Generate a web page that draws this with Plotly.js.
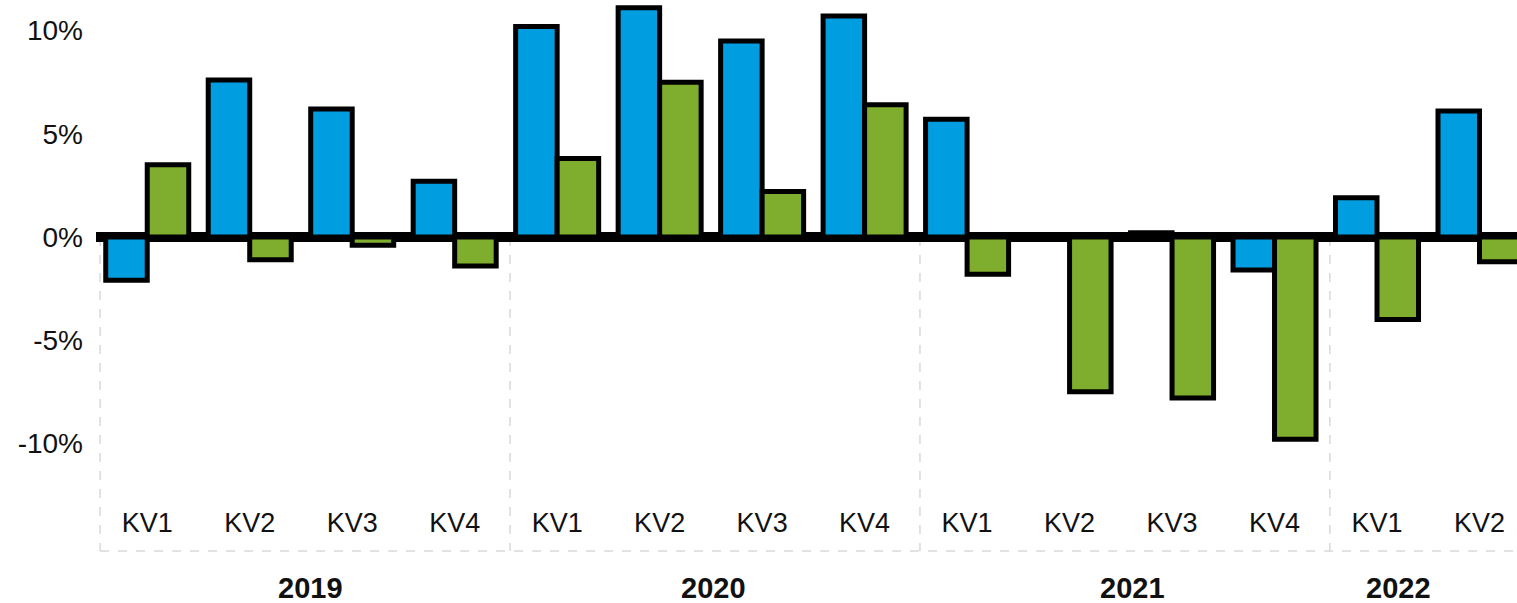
<!DOCTYPE html>
<html>
<head>
<meta charset="utf-8">
<script src="https://cdn.plot.ly/plotly-3.0.1.min.js"></script>
<style>
  html, body { margin: 0; padding: 0; background: #ffffff; overflow: hidden; }
  #chart { width: 1517px; height: 603px; }
</style>
</head>
<body>
<div id="chart"></div>
<script>
// ---- data ----
const years = ['2019','2019','2019','2019','2020','2020','2020','2020','2021','2021','2021','2021','2022','2022'];
const quarters = ['KV1','KV2','KV3','KV4','KV1','KV2','KV3','KV4','KV1','KV2','KV3','KV4','KV1','KV2'];
const blueValues = [-2.1, 7.6, 6.2, 2.7, 10.2, 11.1, 9.5, 10.7, 5.7, -0.05, 0.2, -1.6, 1.9, 6.1];
const greenValues = [3.5, -1.1, -0.4, -1.4, 3.8, 7.5, 2.2, 6.4, -1.8, -7.5, -7.8, -9.8, -4.0, -1.2];
const yTickValues = [-10, -5, 0, 5, 10];
const yTickLabels = ['-10%', '-5%', '0%', '5%', '10%'];

// ---- derived ----
const idx = quarters.map((_, i) => i);
const yearList = [...new Set(years)];
const yearCenters = yearList.map(y => {
  const ids = idx.filter(i => years[i] === y);
  return (ids[0] + ids[ids.length - 1]) / 2;
});
const yearStarts = yearList.map(y => idx.filter(i => years[i] === y)[0] - 0.5);

const BLUE = '#009EE0';
const GREEN = '#7FAD2E';
const FONT = 'Liberation Sans, Arial, sans-serif';

const traces = [
  { type: 'bar', x: idx, y: blueValues, name: 'A',
    marker: { color: BLUE, line: { color: '#000', width: 5 } }, hoverinfo: 'y' },
  { type: 'bar', x: idx, y: greenValues, name: 'B',
    marker: { color: GREEN, line: { color: '#000', width: 5 } }, hoverinfo: 'y' }
];

const yMin = -15.21, yMax = 11.48;

const shapes = yearStarts.map(x => ({
  type: 'line', xref: 'x', yref: 'y', x0: x + 0.04, x1: x + 0.04, y0: 0, y1: yMin,
  line: { color: '#d9d9d9', width: 1.5, dash: 'dash' }, layer: 'below'
}));
shapes.push({
  type: 'line', xref: 'x', yref: 'paper', x0: yearStarts[0] + 0.04, x1: 14, y0: 0, y1: 0,
  line: { color: '#d9d9d9', width: 1.5, dash: 'dash' }, layer: 'below'
});

const yearShift = [10, 3, 12, -30];
const annotations = yearList.map((y, k) => ({
  text: '<b>' + y + '</b>', xref: 'x', yref: 'paper', x: yearCenters[k], y: 0,
  xanchor: 'center', yanchor: 'middle', yshift: -37, xshift: yearShift[k], showarrow: false,
  font: { family: FONT, size: 29, color: '#111' }
}));

const layout = {
  width: 1517, height: 603,
  margin: { l: 96, r: 0, t: 0, b: 52, pad: 0 },
  paper_bgcolor: '#fff', plot_bgcolor: '#fff',
  showlegend: false,
  barmode: 'group', bargap: 0.19, bargroupgap: 0,
  font: { family: FONT, color: '#111' },
  xaxis: {
    range: [-0.5, 13.366], showgrid: false, zeroline: false, showline: false,
    tickmode: 'array', tickvals: idx, ticktext: quarters, ticks: '',
    ticklabelposition: 'inside', ticklabelstandoff: 11,
    tickfont: { family: FONT, size: 27, color: '#111' }
  },
  yaxis: {
    range: [yMin, yMax], showgrid: false, showline: false,
    zeroline: true, zerolinecolor: '#000', zerolinewidth: 10,
    tickmode: 'array', tickvals: yTickValues, ticktext: yTickLabels, ticks: '',
    ticklabelstandoff: 12,
    tickfont: { family: FONT, size: 28, color: '#111' }
  },
  shapes: shapes,
  annotations: annotations
};

Plotly.newPlot('chart', traces, layout, { staticPlot: true, displayModeBar: false });
</script>
</body>
</html>
